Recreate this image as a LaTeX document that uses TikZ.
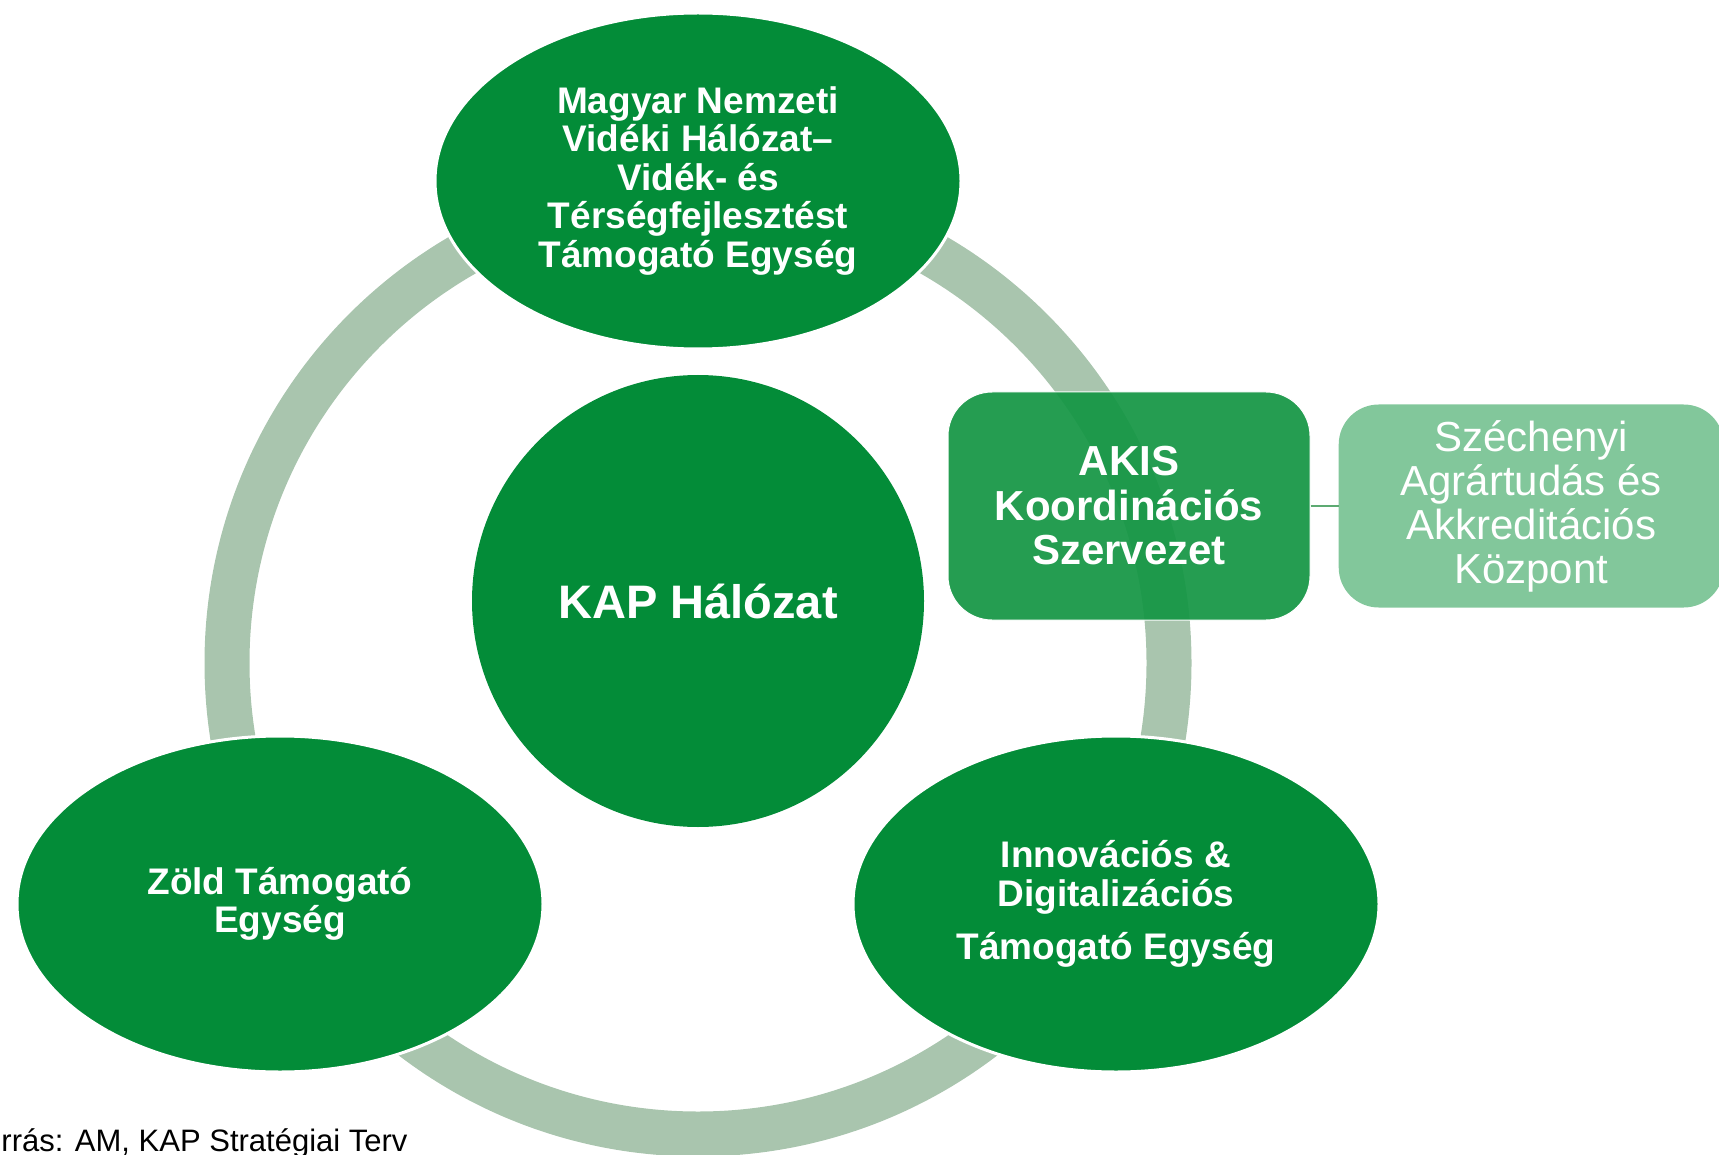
\documentclass[tikz,border=0pt]{standalone}
\usepackage{fontspec}
\setmainfont{Liberation Sans}
\usetikzlibrary{positioning, shapes.geometric}

\definecolor{kapgreen}{RGB}{3,140,56}
\definecolor{ringgreen}{RGB}{169,197,174}
\definecolor{akisgreen}{RGB}{20,150,68}
\definecolor{lightgreen}{RGB}{130,199,155}
\definecolor{linegreen}{RGB}{93,170,114}

\begin{document}
\begin{tikzpicture}[x=1pt, y=-1pt,
    unit/.style={ellipse, fill=kapgreen, draw=white, line width=3pt, minimum width=526pt, minimum height=336pt, inner sep=0pt, align=center, text=white, font=\fontsize{37}{38.5}\selectfont\bfseries},
    hub/.style={circle, fill=kapgreen, minimum size=452pt, inner sep=0pt, text=white, font=\fontsize{47}{50}\selectfont\bfseries},
    akisbox/.style={rectangle, rounded corners=44pt, fill=akisgreen, fill opacity=0.93, text opacity=1, draw=white, line width=1pt, minimum width=362pt, minimum height=228pt, align=center, text=white, font=\fontsize{42}{44.5}\selectfont\bfseries},
    centrebox/.style={rectangle, rounded corners=40pt, fill=lightgreen, minimum width=385pt, minimum height=203pt, align=center, text=white, font=\fontsize{42}{44}\selectfont},
    ring/.style={draw=ringgreen, line width=45pt},
    link/.style={draw=linegreen, line width=2pt}]
  \useasboundingbox (0,0) rectangle (1719,1155);

  % ring behind the three units
  \coordinate (mid) at (698,663);
  \draw[ring] (mid) circle[radius=471];

  \node[hub] (kap) at (698,601) {KAP Hálózat};
  \node[unit, on grid, above=420pt of kap] (mnvh) {Magyar Nemzeti\\Vidéki Hálózat--\\Vidék- és\\Térségfejlesztést\\Támogató Egység};
  \node[unit, on grid, below left=303pt and 418pt of kap] (zold) {Zöld Támogató\\Egység};
  \node[unit, on grid, below right=303pt and 418pt of kap] (innov) {Innovációs \&\\Digitalizációs\\[15pt]Támogató Egység};
  \node[akisbox, on grid, above right=95pt and 431pt of kap] (akis) {AKIS\\Koordinációs\\Szervezet};
  \node[centrebox, right=28pt of akis] (szech) {Széchenyi\\Agrártudás és\\Akkreditációs\\Központ};

  \draw[link] (akis) -- (szech);

  \node[anchor=base east, font=\fontsize{31}{33}\selectfont] (src) at (411,1151) {Forrás: AM, KAP Stratégiai Terv};
\end{tikzpicture}
\end{document}
